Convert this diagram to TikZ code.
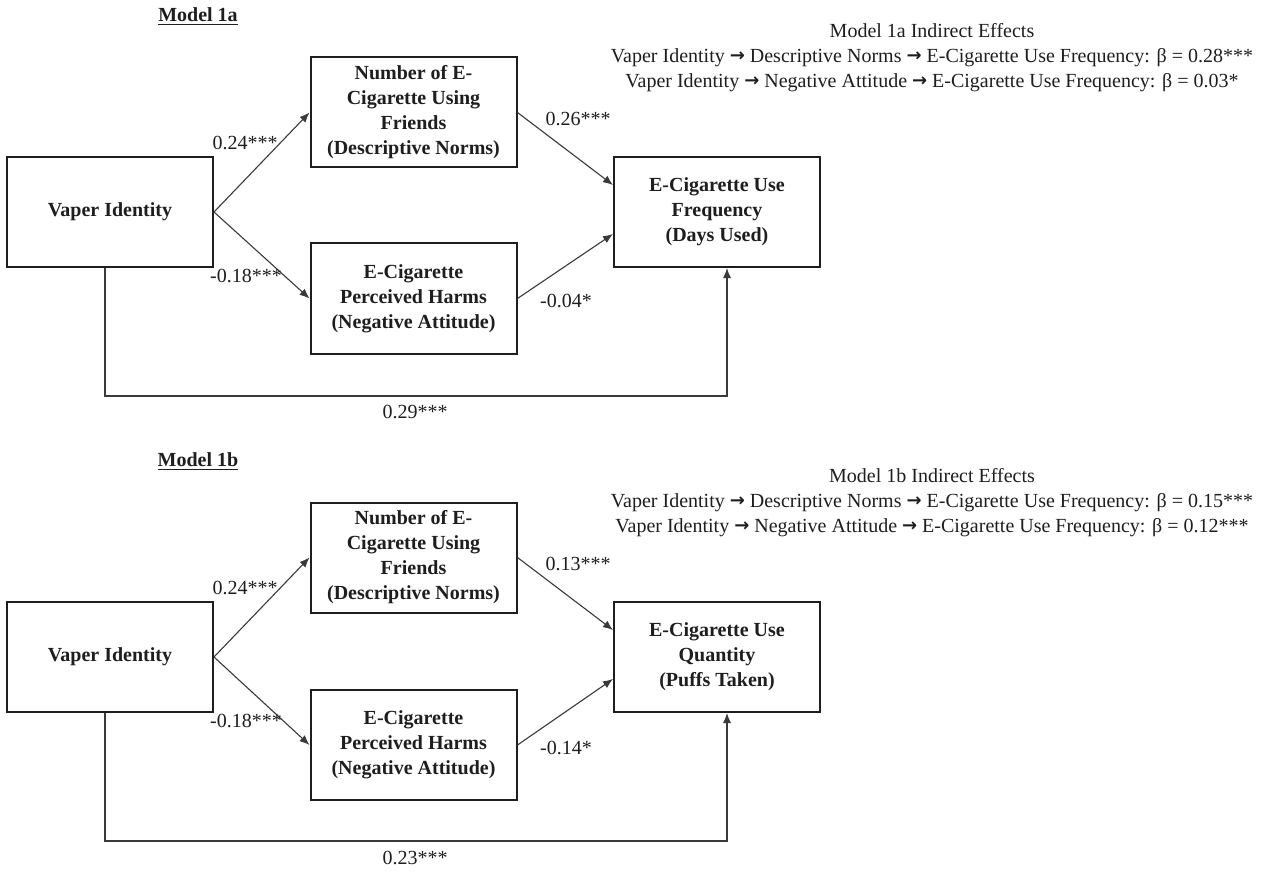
\documentclass[tikz,border=0pt]{standalone}
\usepackage{fontspec}
\setmainfont{Liberation Serif}
\newfontfamily\arrowfont{DejaVu Sans}
\usetikzlibrary{arrows.meta,calc}
\definecolor{pathink}{HTML}{1E1E1E}
\definecolor{pathline}{HTML}{3A3A3A}
\newcommand{\pathto}{\raisebox{0.5pt}{\fontsize{9}{12.5}\arrowfont\bfseries →}}

\begin{document}
\begin{tikzpicture}[
  x=0.5pt, y=-0.5pt,
  font=\fontsize{10}{12.5}\selectfont,
  varbox/.style={
    draw=pathink, fill=white, text=pathink, line width=1pt,
    align=center, font=\fontsize{10}{12.5}\selectfont\bfseries,
    minimum width=103pt, minimum height=55pt, inner sep=2pt
  },
  flow/.style={draw=pathline, line width=0.55pt, -{Latex[length=5pt,width=4pt]}},
  coef/.style={font=\fontsize{10}{12.5}\selectfont, text=pathink, inner sep=1pt},
  heading/.style={font=\fontsize{10}{12.5}\selectfont\bfseries, text=pathink, inner sep=1pt},
  effects/.style={font=\fontsize{10}{12.5}\selectfont, text=pathink, align=center, inner sep=1pt},
]
\useasboundingbox (0,0) rectangle (1276,872);
\fill[white] (0,0) rectangle (1276,872);

% ---- model 1a ----
\node[heading] (hA) at (198,17) {\underline{Model 1a}};
\node[effects] (ieA) at (932,58) {Model 1a Indirect Effects\\
  Vaper Identity \pathto{} Descriptive Norms \pathto{} E-Cigarette Use Frequency: β = 0.28***\\
  Vaper Identity \pathto{} Negative Attitude \pathto{} E-Cigarette Use Frequency: β = 0.03*};

\node[varbox] (viA)  at (110,212)   {Vaper Identity};
\node[varbox] (dnA)  at (413.5,112.5) {Number of E-\\Cigarette Using\\Friends\\(Descriptive Norms)};
\node[varbox] (naA)  at (413.5,298.5) {E-Cigarette\\Perceived Harms\\(Negative Attitude)};
\node[varbox] (outA) at (717,212)   {E-Cigarette Use\\Frequency\\(Days Used)};

\draw[flow] (viA.east) -- (dnA.west);
\draw[flow] (viA.east) -- (naA.west);
\draw[flow] (dnA.east) -- ($(outA.west)+(0,-27)$);
\draw[flow] (naA.east) -- ($(outA.west)+(0,22)$);

% direct path, routed under the mediators
\coordinate (bendA1) at (105,396);
\coordinate (bendA2) at (727,396);
\draw[flow] (viA.south -| bendA1) -- (bendA1) -- (bendA2) -- (outA.south -| bendA2);

\node[coef] (cA1) at (245,143) {0.24***};
\node[coef] (cA2) at (246,276) {-0.18***};
\node[coef] (cA3) at (578,119) {0.26***};
\node[coef] (cA4) at (566,301) {-0.04*};
\node[coef] (cA5) at (415,412) {0.29***};

% ---- model 1b ----
\node[heading] (hB) at (198,462) {\underline{Model 1b}};
\node[effects] (ieB) at (932,503) {Model 1b Indirect Effects\\
  Vaper Identity \pathto{} Descriptive Norms \pathto{} E-Cigarette Use Frequency: β = 0.15***\\
  Vaper Identity \pathto{} Negative Attitude \pathto{} E-Cigarette Use Frequency: β = 0.12***};

\node[varbox] (viB)  at (110,657)   {Vaper Identity};
\node[varbox] (dnB)  at (413.5,557.5) {Number of E-\\Cigarette Using\\Friends\\(Descriptive Norms)};
\node[varbox] (naB)  at (413.5,745) {E-Cigarette\\Perceived Harms\\(Negative Attitude)};
\node[varbox] (outB) at (717,657)   {E-Cigarette Use\\Quantity\\(Puffs Taken)};

\draw[flow] (viB.east) -- (dnB.west);
\draw[flow] (viB.east) -- (naB.west);
\draw[flow] (dnB.east) -- ($(outB.west)+(0,-27)$);
\draw[flow] (naB.east) -- ($(outB.west)+(0,22)$);

\coordinate (bendB1) at (105,841);
\coordinate (bendB2) at (727,841);
\draw[flow] (viB.south -| bendB1) -- (bendB1) -- (bendB2) -- (outB.south -| bendB2);

\node[coef] (cB1) at (245,588) {0.24***};
\node[coef] (cB2) at (246,721) {-0.18***};
\node[coef] (cB3) at (578,564) {0.13***};
\node[coef] (cB4) at (566,748) {-0.14*};
\node[coef] (cB5) at (415,858) {0.23***};

\end{tikzpicture}
\end{document}
